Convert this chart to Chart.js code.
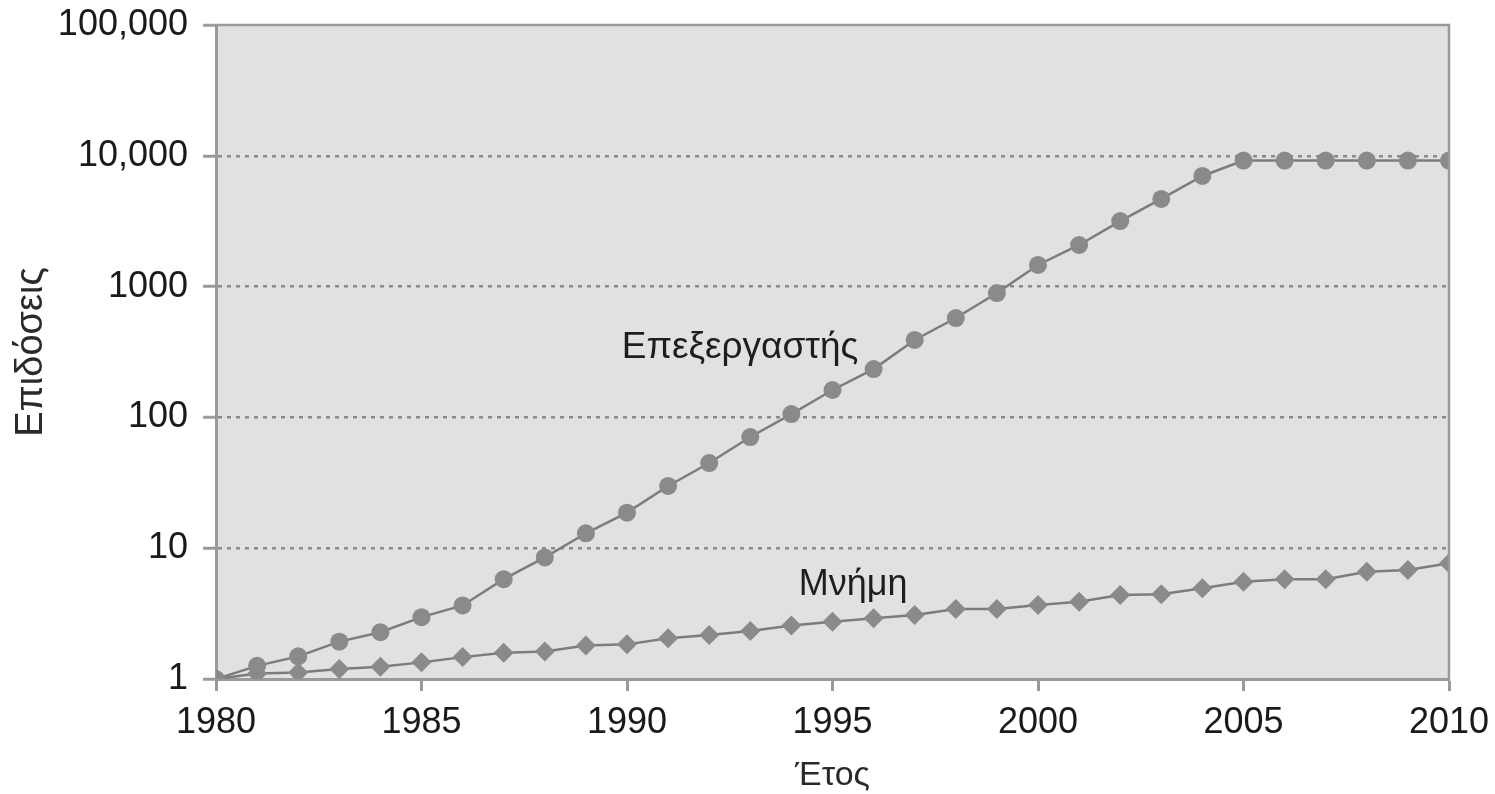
<!DOCTYPE html>
<html lang="el">
<head>
<meta charset="utf-8">
<title>Επιδόσεις επεξεργαστή και μνήμης</title>
<script src="https://cdn.jsdelivr.net/npm/chart.js@4.4.1/dist/chart.umd.min.js"></script>
<style>
  html, body { margin: 0; padding: 0; background: #ffffff; }
  #wrap { width: 1495px; height: 794px; position: relative; }
</style>
</head>
<body>
<div id="wrap"><canvas id="chart"></canvas></div>
<script>
// Years on the horizontal axis
const years = [1980, 1981, 1982, 1983, 1984, 1985, 1986, 1987, 1988, 1989,
               1990, 1991, 1992, 1993, 1994, 1995, 1996, 1997, 1998, 1999,
               2000, 2001, 2002, 2003, 2004, 2005, 2006, 2007, 2008, 2009, 2010];

// Relative performance (1980 = 1)
const processorPerf = [1.0, 1.26, 1.49, 1.93, 2.28, 2.97, 3.65, 5.8, 8.5, 13.0,
                       18.7, 29.9, 44.8, 70.8, 106, 162, 234, 391, 575, 893,
                       1463, 2080, 3170, 4680, 7010, 9200, 9200, 9200, 9200, 9200, 9200];
const memoryPerf = [1.0, 1.1, 1.12, 1.19, 1.24, 1.34, 1.47, 1.59, 1.62, 1.8,
                    1.84, 2.05, 2.17, 2.33, 2.56, 2.74, 2.91, 3.08, 3.43, 3.43,
                    3.68, 3.9, 4.39, 4.44, 4.94, 5.54, 5.78, 5.78, 6.61, 6.81, 7.67];

// Vertical axis ticks (log scale)
const yTickValues = [1, 10, 100, 1000, 10000, 100000];
const yTickLabels = ['1', '10', '100', '1000', '10,000', '100,000'];

// Series names, written next to their curves (year, value of the text baseline)
const processorName = 'Επεξεργαστής';
const memoryName = 'Μνήμη';
const processorNameAt = [1992.75, 285];
const memoryNameAt = [1995.5, 4.39];

const FONT = '"Liberation Sans", Arial, Helvetica, sans-serif';
const GREY_MARK = '#8a8a8a';
const GREY_LINE = '#7c7c7c';
const GREY_AXIS = '#9a9a9a';

// Grey plot background with a frame around the plotting area
const plotFrame = {
  id: 'plotFrame',
  beforeDraw(chart) {
    const { ctx, chartArea: a } = chart;
    ctx.save();
    ctx.fillStyle = '#e1e1e1';
    ctx.fillRect(a.left, a.top, a.right - a.left, a.bottom - a.top);
    ctx.restore();
  },
  afterDraw(chart) {
    const { ctx, chartArea: a } = chart;
    ctx.save();
    ctx.strokeStyle = GREY_AXIS;
    ctx.lineWidth = 2.5;
    ctx.beginPath();
    ctx.moveTo(a.left, a.top);
    ctx.lineTo(a.right, a.top);
    ctx.lineTo(a.right, a.bottom);
    ctx.stroke();
    ctx.restore();
  }
};

// In-plot series names
const seriesNames = {
  id: 'seriesNames',
  afterDatasetsDraw(chart) {
    const { ctx, scales: { x, y } } = chart;
    ctx.save();
    ctx.fillStyle = '#1e1e1e';
    ctx.font = '37px ' + FONT;
    ctx.textAlign = 'center';
    ctx.textBaseline = 'alphabetic';
    ctx.fillText(processorName, x.getPixelForValue(processorNameAt[0]), y.getPixelForValue(processorNameAt[1]));
    ctx.font = '36px ' + FONT;
    ctx.fillText(memoryName, x.getPixelForValue(memoryNameAt[0]), y.getPixelForValue(memoryNameAt[1]));
    ctx.restore();
  }
};

const toPoints = (vals) => years.map((yr, i) => ({ x: yr, y: vals[i] }));

new Chart(document.getElementById('chart'), {
  type: 'line',
  data: {
    datasets: [
      {
        label: processorName,
        data: toPoints(processorPerf),
        borderColor: GREY_LINE,
        borderWidth: 2.5,
        pointStyle: 'circle',
        pointRadius: 9,
        pointBackgroundColor: GREY_MARK,
        pointBorderColor: GREY_MARK,
        pointBorderWidth: 0,
        tension: 0
      },
      {
        label: memoryName,
        data: toPoints(memoryPerf),
        borderColor: GREY_LINE,
        borderWidth: 2.5,
        pointStyle: 'rectRot',
        pointRadius: 10,
        pointBackgroundColor: GREY_MARK,
        pointBorderColor: GREY_MARK,
        pointBorderWidth: 0,
        tension: 0
      }
    ]
  },
  options: {
    responsive: true,
    maintainAspectRatio: false,
    animation: false,
    layout: { padding: { top: 25, right: 46, left: 0, bottom: 0 } },
    plugins: {
      legend: { display: false },
      tooltip: { enabled: false }
    },
    scales: {
      x: {
        type: 'linear',
        min: 1980,
        max: 2010,
        afterFit(scale) {
          scale.height = 115;
          scale.paddingLeft = 0;
          scale.paddingRight = 0;
        },
        ticks: {
          stepSize: 5,
          color: '#1a1a1a',
          font: { family: FONT, size: 36 },
          padding: 10,
          callback: (v) => String(v)
        },
        grid: {
          drawOnChartArea: false,
          drawTicks: true,
          tickLength: 12,
          tickColor: GREY_AXIS,
          tickWidth: 3
        },
        border: { display: true, color: GREY_AXIS, width: 3 },
        title: {
          display: true,
          text: 'Έτος',
          color: '#2a2a2a',
          font: { family: FONT, size: 34, lineHeight: 1.0 },
          padding: { top: 0, bottom: 1 }
        }
      },
      y: {
        type: 'logarithmic',
        min: 1,
        max: 100000,
        afterFit(scale) {
          scale.width = 216;
          scale.paddingTop = 0;
          scale.paddingBottom = 0;
        },
        afterBuildTicks(scale) {
          scale.ticks = yTickValues.map((v) => ({ value: v, major: true }));
        },
        ticks: {
          color: '#1a1a1a',
          font: { family: FONT, size: 36 },
          padding: 15,
          autoSkip: false,
          callback: (v) => {
            const i = yTickValues.indexOf(v);
            return i >= 0 ? yTickLabels[i] : '';
          }
        },
        grid: {
          drawOnChartArea: true,
          color: (c) => (c.tick && (c.tick.value === 1 || c.tick.value === 100000)) ? 'rgba(0,0,0,0)' : '#8a8a8a',
          lineWidth: 2.5,
          tickLength: 13,
          tickColor: GREY_AXIS,
          tickWidth: 3,
          tickBorderDash: []
        },
        border: { display: true, color: GREY_AXIS, width: 3, dash: [4, 5] },
        title: {
          display: true,
          text: 'Επιδόσεις',
          color: '#2a2a2a',
          font: { family: FONT, size: 38 },
          padding: { top: 9, bottom: 0 }
        }
      }
    }
  },
  plugins: [plotFrame, seriesNames]
});
</script>
</body>
</html>
